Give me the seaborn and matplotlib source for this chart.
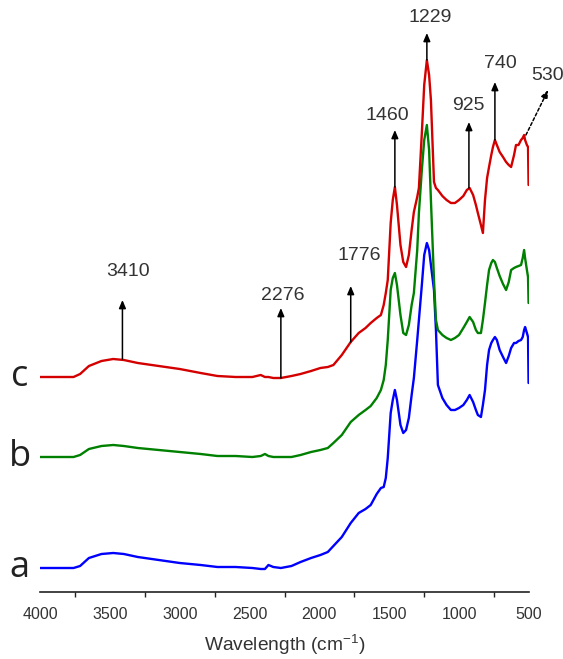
import numpy as np
import pandas as pd
import matplotlib
matplotlib.use("Agg")
import matplotlib.pyplot as plt
import seaborn as sns

# Wavenumber grid (cm^-1) shared by the three spectra
wavenumber = [4000, 3860, 3760, 3713, 3650, 3560, 3476, 3400, 3300, 3150, 3000, 2850,
              2730, 2600, 2480, 2420, 2390, 2365, 2330, 2276, 2200, 2135, 2060, 1993,
              1940, 1900, 1840, 1776, 1719, 1670, 1633, 1590, 1560, 1540, 1525, 1511,
              1490, 1475, 1460, 1445, 1420, 1400, 1380, 1360, 1340, 1324, 1300, 1288,
              1267, 1250, 1231, 1215, 1202, 1180, 1166, 1152, 1120, 1090, 1059, 1030,
              1001, 970, 945, 925, 900, 880, 866, 844, 830, 815, 800, 786, 770, 758,
              744, 730, 710, 686, 664, 645, 628, 607, 593, 575, 557, 545, 535, 528,
              515, 507, 503]

# Offset absorbance traces (a.u.)
spec_a = [23, 23, 23, 25, 33, 37, 38, 37, 34, 31, 28, 26,
          24, 24, 23, 22, 22, 26, 24, 23, 25, 29, 33, 36,
          39, 45, 54, 68, 78, 82, 86, 97, 103, 104, 113, 133,
          178, 191, 201, 191, 166, 158, 161, 173, 196, 213, 251, 271,
          306, 336, 348, 341, 326, 301, 261, 206, 193, 186, 181, 181,
          183, 186, 191, 196, 189, 181, 176, 174, 186, 201, 226, 241, 248, 251,
          254, 251, 241, 234, 228, 235, 243, 248, 248, 250, 251, 254, 261, 264,
          258, 254, 208]

spec_b = [134, 134, 134, 136, 142, 145, 146, 145, 143, 141, 139, 137,
          135, 135, 134, 135, 137, 135, 134, 134, 134, 136, 139, 141,
          143, 148, 156, 169, 176, 181, 185, 193, 201, 211, 226, 251,
          301, 313, 318, 306, 276, 258, 256, 266, 286, 298, 341, 378,
          421, 451, 466, 441, 391, 311, 271, 261, 256, 253, 251, 253,
          256, 263, 269, 274, 269, 261, 258, 258, 271, 288, 306, 321, 328, 331,
          329, 323, 315, 307, 301, 309, 321, 323, 324, 325, 326, 333, 341, 333,
          321, 314, 288]

spec_c = [214, 214, 214, 217, 225, 230, 232, 231, 228, 225, 222, 218,
          215, 214, 214, 216, 214, 214, 213, 213, 215, 217, 220, 223,
          224, 226, 236, 249, 258, 263, 268, 273, 276, 286, 298, 311,
          368, 391, 404, 386, 346, 329, 324, 336, 361, 379, 394, 403,
          458, 506, 531, 516, 491, 409, 403, 401, 395, 391, 388, 388,
          391, 395, 401, 403, 396, 386, 378, 366, 358, 391, 413, 424, 436, 444,
          451, 446, 439, 434, 429, 426, 424, 436, 446, 446, 451, 453, 456, 451,
          446, 444, 406]

sample_names = ["a", "b", "c"]
line_colors = ["#0000ff", "#008000", "#d40000"]

# Band assignments: arrow x, arrow base/tip y, label position
band_labels = ["3410", "2276", "1776", "1460", "1229", "925", "740"]
band_x = [3410, 2276, 1776, 1460, 1231, 930, 744]
band_y0 = [232, 213, 249, 404, 531, 403, 451]
band_y1 = [291, 283, 305, 461, 558, 469, 509]
band_tx = [3369, 2264, 1712, 1511, 1210, 937, 708]
band_ty = [320, 295, 335, 475, 574, 485, 527]

df = pd.DataFrame({
    "wavenumber": wavenumber * 3,
    "absorbance": spec_a + spec_b + spec_c,
    "sample": sum([[n] * len(wavenumber) for n in sample_names], []),
})

sns.set_theme(style="white")
plt.rcParams["font.family"] = ["Liberation Sans", "DejaVu Sans"]

fig = plt.figure(figsize=(5.63, 6.59), dpi=100)
ax = fig.add_axes([40 / 563, 67 / 659, 489 / 563, 592 / 659])

sns.lineplot(data=df, x="wavenumber", y="absorbance", hue="sample",
             palette=dict(zip(sample_names, line_colors)), estimator=None,
             sort=False, linewidth=1.7, legend=False, ax=ax)

ax.set_xlim(4000, 500)
ax.set_ylim(-1, 591)
ax.set_xticks(np.arange(4000, 499, -500))
ax.set_xticks(np.arange(3750, 500, -500), minor=True)
ax.set_yticks([])
for s in ["left", "top", "right"]:
    ax.spines[s].set_visible(False)
ax.spines["bottom"].set_color("#222222")
ax.spines["bottom"].set_linewidth(1.2)
ax.tick_params(axis="x", which="major", direction="out", length=6.5, width=1.2,
               color="#222222", labelsize=11.5, labelcolor="#333333", pad=4)
ax.tick_params(axis="x", which="minor", direction="out", length=3.5, width=1.0,
               color="#222222", bottom=True)
ax.set_xlabel("Wavelength (cm$^{\\mathregular{-1}}$)", fontsize=13.8, color="#333333",
              labelpad=8)
ax.set_ylabel("")

# Sample letters beside each trace
letter_y = [spec_a[0], spec_b[0], spec_c[0]]
for name, y in zip(sample_names, letter_y):
    ax.text(4145, y, name, fontsize=26, family=["Open Sans", "DejaVu Sans"],
            color="#222222", ha="center", va="center", clip_on=False)

# Band arrows and wavenumber labels
arrow_kw = dict(arrowstyle="-|>,head_length=0.4,head_width=0.17", color="black",
                lw=1.1, shrinkA=0, shrinkB=0)
for lab, x, y0, y1, tx, ty in zip(band_labels, band_x, band_y0, band_y1, band_tx, band_ty):
    ax.annotate("", xy=(x, y1), xytext=(x, y0), arrowprops=arrow_kw)
    ax.text(tx, ty, lab, fontsize=14, color="#333333", ha="center", va="center")

ax.annotate("", xy=(363, 501), xytext=(522, 456),
            arrowprops=dict(arrow_kw, linestyle=(0, (2, 1.5))), annotation_clip=False)
ax.text(370, 515, "530", fontsize=14, color="#333333", ha="center", va="center",
        clip_on=False)

fig.savefig("out.png", dpi=100)
